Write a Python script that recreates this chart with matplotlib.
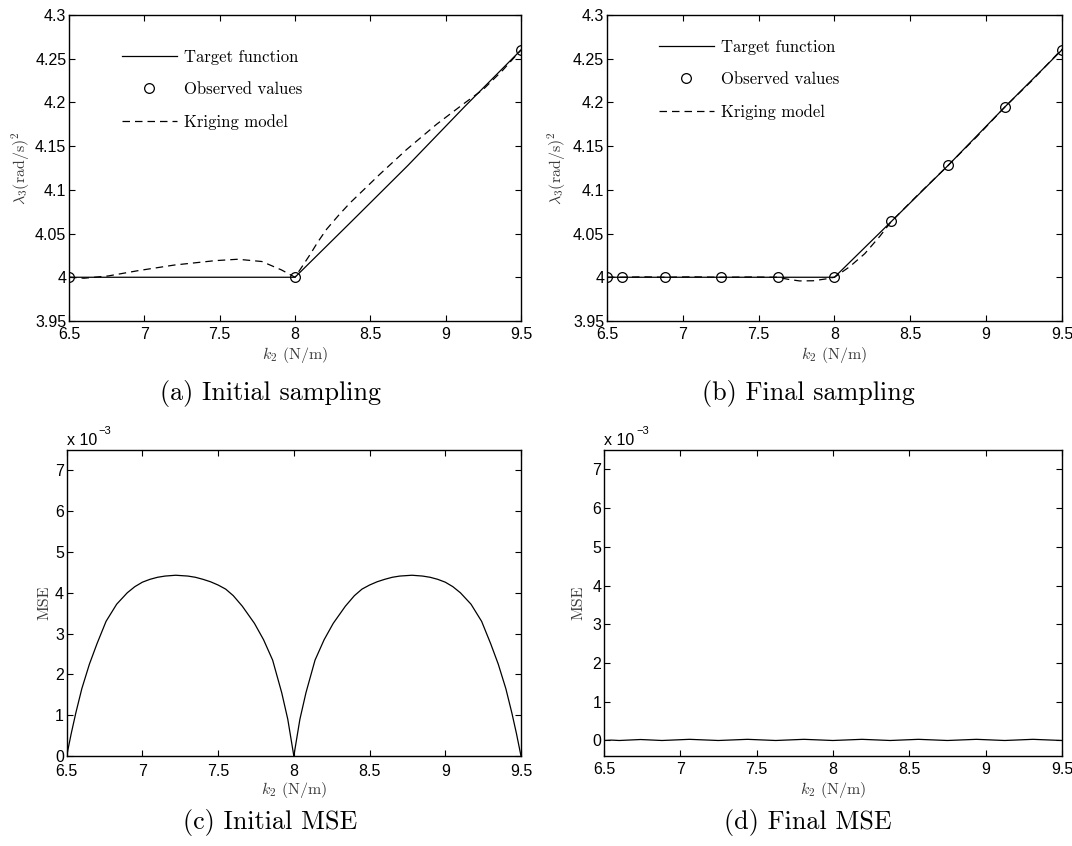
import matplotlib
matplotlib.use("Agg")
import matplotlib.pyplot as plt
import numpy as np

# ---------------- data ----------------
target_x = [6.5, 8.0, 8.375, 8.75, 9.125, 9.5]
target_y = [4.0, 4.0, 4.0638, 4.128, 4.195, 4.26]

obs_a_x = [6.5, 8.0, 9.5]
obs_a_y = [4.0, 4.0, 4.26]

krig_a_x = [6.5, 6.6, 6.76, 6.96, 7.2, 7.47, 7.62, 7.78, 7.91, 8.0, 8.05, 8.1,
            8.15, 8.21, 8.29, 8.365, 8.564, 8.74, 8.94, 9.116, 9.25, 9.38, 9.5]
krig_a_y = [4.0, 3.9989, 4.0015, 4.0076, 4.014, 4.019, 4.0206, 4.018, 4.0084, 4.0,
            4.013, 4.026, 4.040, 4.055, 4.071, 4.085, 4.118, 4.146, 4.175, 4.198,
            4.215, 4.237, 4.26]

obs_b_x = [6.5, 6.6, 6.88, 7.25, 7.625, 8.0, 8.375, 8.75, 9.125, 9.5]
obs_b_y = [4.0, 4.0, 4.0, 4.0, 4.0, 4.0, 4.0638, 4.128, 4.195, 4.26]

krig_b_x = [6.5, 6.55, 6.6, 6.74, 6.88, 7.06, 7.25, 7.44, 7.625, 7.70, 7.77, 7.86,
            7.94, 8.0, 8.1, 8.2, 8.3, 8.375, 8.56, 8.75, 8.94, 9.125, 9.3, 9.5]
krig_b_y = [4.0, 4.0, 4.0, 4.0005, 4.0, 4.0005, 4.0, 4.0003, 4.0, 3.9975, 3.9958, 3.996,
            3.998, 4.0, 4.012, 4.027, 4.047, 4.0638, 4.096, 4.128, 4.161, 4.195, 4.2245, 4.261]

# MSE values in units of 1e-3
mse_c_x1 = [6.50, 6.53, 6.56, 6.60, 6.65, 6.70, 6.76, 6.83, 6.90, 6.95, 7.00, 7.05,
            7.10, 7.15, 7.22, 7.30, 7.35, 7.40, 7.45, 7.50, 7.55, 7.60, 7.66, 7.74,
            7.80, 7.86, 7.92, 7.96, 8.00]
mse_c_y1 = [0.00, 0.55, 1.05, 1.65, 2.25, 2.75, 3.30, 3.72, 4.00, 4.15, 4.26, 4.33,
            4.38, 4.41, 4.43, 4.41, 4.38, 4.33, 4.27, 4.19, 4.09, 3.93, 3.67, 3.25,
            2.85, 2.35, 1.55, 0.90, 0.00]
mse_c_x2 = [8.00, 8.04, 8.08, 8.14, 8.20, 8.26, 8.34, 8.40, 8.45, 8.50, 8.55, 8.60,
            8.65, 8.70, 8.78, 8.85, 8.90, 8.95, 9.00, 9.05, 9.10, 9.17, 9.24, 9.30,
            9.35, 9.40, 9.44, 9.47, 9.50]
mse_c_y2 = [0.00, 0.90, 1.55, 2.35, 2.85, 3.25, 3.67, 3.93, 4.09, 4.19, 4.27, 4.33,
            4.38, 4.41, 4.43, 4.41, 4.38, 4.33, 4.26, 4.15, 4.00, 3.72, 3.30, 2.75,
            2.25, 1.65, 1.05, 0.55, 0.00]

mse_d_x = [6.5, 6.55, 6.6, 6.74, 6.88, 7.06, 7.25, 7.44, 7.625, 7.81, 8.0, 8.19,
           8.375, 8.56, 8.75, 8.94, 9.125, 9.31, 9.5]
mse_d_y = [0.0, 0.01, 0.0, 0.025, 0.0, 0.03, 0.0, 0.03, 0.0, 0.03, 0.0, 0.03,
           0.0, 0.03, 0.0, 0.03, 0.0, 0.03, 0.0]

x_ticks = [6.5, 7, 7.5, 8, 8.5, 9, 9.5]
lam_ticks = [3.95, 4, 4.05, 4.1, 4.15, 4.2, 4.25, 4.3]
mse_ticks = [0, 1, 2, 3, 4, 5, 6, 7]

# ---------------- style ----------------
plt.rcParams['mathtext.fontset'] = 'cm'
plt.rcParams['font.family'] = ['Liberation Sans', 'DejaVu Sans']
SERIF = 'cmr10'
TICK_FS = 11.5
LABEL_FS = 11.5
LEG_FS = 12
TITLE_FS = 18.8
LABEL_COLOR = '#3a3a3a'

fig = plt.figure(figsize=(10.72, 8.46), dpi=100)

positions = {
    'a': [0.0644, 0.6206, 0.4216, 0.3617],
    'b': [0.5662, 0.6206, 0.4244, 0.3617],
    'c': [0.0622, 0.1064, 0.4238, 0.3617],
    'd': [0.5634, 0.1064, 0.4272, 0.3617],
}


def style_axes(ax, xpad=4):
    ax.tick_params(direction='in', top=True, right=True, length=4.5, width=0.8,
                   labelsize=TICK_FS, pad=2)
    ax.tick_params(axis='x', pad=xpad)
    for s in ax.spines.values():
        s.set_linewidth(1.0)
    ax.set_xlim(6.5, 9.5)
    ax.set_xticks(x_ticks)
    ax.set_xticklabels(['%g' % v for v in x_ticks])
    ax.set_xlabel(r'$k_2$ (N/m)', family=SERIF, fontsize=LABEL_FS, color=LABEL_COLOR)
    ax.xaxis.set_label_coords(0.5, -0.11)
    ax.xaxis.label.set_va('center')


def sampling_axes(ax, ox, oy, kx, ky, leg_anchor, ylab_x):
    style_axes(ax)
    l1, = ax.plot(target_x, target_y, color='black', lw=0.9)
    l2, = ax.plot(ox, oy, linestyle='none', marker='o', markersize=7,
                  markerfacecolor='none', markeredgecolor='black', markeredgewidth=0.9)
    l3, = ax.plot(kx, ky, color='black', lw=0.9, linestyle=(0, (6, 4)))
    ax.set_ylim(3.95, 4.3)
    ax.set_yticks(lam_ticks)
    ax.set_yticklabels(['%g' % v for v in lam_ticks])
    ax.set_ylabel(r'$\lambda_3$(rad/s)$^2$', family=SERIF, fontsize=LABEL_FS,
                  color=LABEL_COLOR)
    ax.yaxis.set_label_coords(ylab_x, 0.5)
    ax.yaxis.label.set_va('center')
    ax.legend([l1, l2, l3], ['Target function', 'Observed values', 'Kriging model'],
              loc='upper left', bbox_to_anchor=leg_anchor, frameon=False,
              prop={'family': SERIF, 'size': LEG_FS}, handlelength=3.3,
              handletextpad=0.45, labelspacing=1.02, borderpad=0, borderaxespad=0,
              numpoints=1)


def mse_axes(ax, ylim, ylab_x, xpad):
    style_axes(ax, xpad)
    ax.set_ylim(*ylim)
    ax.set_yticks(mse_ticks)
    ax.set_yticklabels(['%g' % v for v in mse_ticks])
    ax.set_ylabel('MSE', family=SERIF, fontsize=LABEL_FS, color=LABEL_COLOR)
    ax.yaxis.set_label_coords(ylab_x, 0.5)
    ax.yaxis.label.set_va('center')
    ax.text(0.0, 1.008, 'x 10', transform=ax.transAxes, fontsize=TICK_FS,
            ha='left', va='bottom')
    ax.text(0.07, 1.045, '\u22123', transform=ax.transAxes, fontsize=8,
            ha='left', va='bottom')


ax_a = fig.add_axes(positions['a'])
sampling_axes(ax_a, obs_a_x, obs_a_y, krig_a_x, krig_a_y, (0.117, 0.888), -0.106)

ax_b = fig.add_axes(positions['b'])
sampling_axes(ax_b, obs_b_x, obs_b_y, krig_b_x, krig_b_y, (0.114, 0.92), -0.11)

ax_c = fig.add_axes(positions['c'])
mse_axes(ax_c, (0, 7.5), -0.048, 6)
ax_c.plot(mse_c_x1, mse_c_y1, color='black', lw=0.9)
ax_c.plot(mse_c_x2, mse_c_y2, color='black', lw=0.9)

ax_d = fig.add_axes(positions['d'])
mse_axes(ax_d, (-0.4, 7.5), -0.055, 4)
ax_d.plot(mse_d_x, mse_d_y, color='black', lw=0.9)

# sub-captions
fig.text(0.252, 1 - 393 / 846, '(a) Initial sampling', family=SERIF, fontsize=TITLE_FS,
         ha='center', va='center')
fig.text(0.754, 1 - 393 / 846, '(b) Final sampling', family=SERIF, fontsize=TITLE_FS,
         ha='center', va='center')
fig.text(0.252, 1 - 822 / 846, '(c) Initial MSE', family=SERIF, fontsize=TITLE_FS,
         ha='center', va='center')
fig.text(0.754, 1 - 822 / 846, '(d) Final MSE', family=SERIF, fontsize=TITLE_FS,
         ha='center', va='center')

fig.savefig('out.png', dpi=100, facecolor='white')
